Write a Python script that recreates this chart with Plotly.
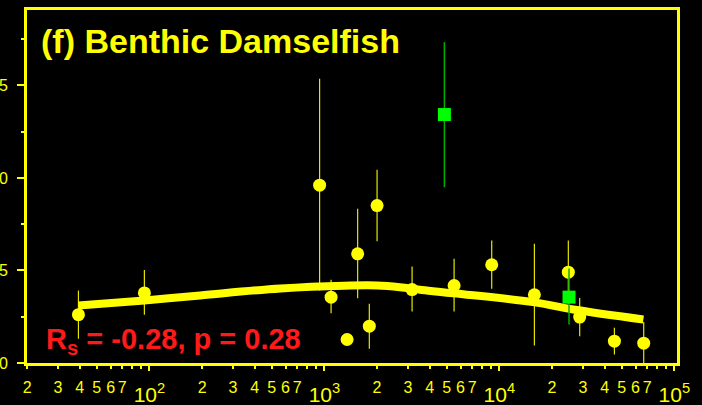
import plotly.graph_objects as go

# ---- data ----
yellow_x = [39.3, 93.6, 939, 1092, 1348, 1549, 1806, 2000, 3170, 5510, 9040, 15850, 24770, 28770, 45420, 66800]
yellow_y = [0.261, 0.379, 0.961, 0.356, 0.127, 0.590, 0.199, 0.851, 0.397, 0.419, 0.531, 0.369, 0.491, 0.248, 0.118, 0.107]
yellow_hi = [0.392, 0.503, 1.536, 0.450, 0.127, 0.834, 0.320, 1.044, 0.522, 0.563, 0.662, 0.644, 0.662, 0.352, 0.190, 0.221]
yellow_lo = [0.131, 0.261, 0.392, 0.269, 0.127, 0.350, 0.077, 0.658, 0.278, 0.278, 0.401, 0.095, 0.320, 0.145, 0.046, 0.000]

green_x = [4850, 25000]
green_y = [1.343, 0.356]
green_hi = [1.734, 0.511]
green_lo = [0.950, 0.208]

smooth_x = [39.3, 93.6, 195, 561, 1300, 2000, 2700, 3600, 5460, 15630, 26480, 66500]
smooth_y = [0.311, 0.338, 0.365, 0.403, 0.418, 0.419, 0.410, 0.395, 0.377, 0.329, 0.289, 0.235]

minor_vals = [m * 10 ** d for d in range(1, 5) for m in range(2, 10) if m * 10 ** d >= 20]
minor_text = [str(int(str(int(v))[0])) if int(str(int(v))[0]) <= 7 else "" for v in minor_vals]
major_vals = [100, 1000, 10000, 100000]
major_text = ["10<sup>2</sup>", "10<sup>3</sup>", "10<sup>4</sup>", "10<sup>5</sup>"]
y_ticks = [0, 0.5, 1.0, 1.5]
y_text = ["0", "0.5", "1.0", "1.5"]

YEL = "#ffff00"
FONT = "Arial"

fig = go.Figure()
fig.add_trace(go.Scatter(
    x=yellow_x, y=yellow_y, mode="markers",
    marker=dict(symbol="circle", size=13, color=YEL, line=dict(width=0)),
    error_y=dict(type="data", symmetric=False,
                 array=[h - y for h, y in zip(yellow_hi, yellow_y)],
                 arrayminus=[y - l for y, l in zip(yellow_y, yellow_lo)],
                 color="#e6e600", thickness=1.2, width=0),
    showlegend=False))
fig.add_trace(go.Scatter(
    x=smooth_x, y=smooth_y, mode="lines",
    line=dict(color=YEL, width=8, shape="spline", smoothing=1.0),
    showlegend=False))
fig.add_trace(go.Scatter(
    x=green_x, y=green_y, mode="markers", xaxis="x2",
    marker=dict(symbol="square", size=13, color="#00ff00", line=dict(width=0)),
    error_y=dict(type="data", symmetric=False,
                 array=[h - y for h, y in zip(green_hi, green_y)],
                 arrayminus=[y - l for y, l in zip(green_y, green_lo)],
                 color="#00b000", thickness=1.5, width=0),
    showlegend=False))

xr = [1.3005, 5.015]
L, R, T, B = 27, 25, 10, 42
PW, PH = 702 - L - R, 405 - T - B
fig.update_layout(
    width=702, height=405,
    margin=dict(l=L, r=R, t=T, b=B, pad=0),
    paper_bgcolor="black", plot_bgcolor="black",
    template="none",
    xaxis=dict(type="log", range=xr, tickmode="array", tickvals=minor_vals, ticktext=minor_text,
               ticks="outside", ticklen=3, tickwidth=1.5, tickcolor=YEL,
               tickfont=dict(family=FONT, size=16, color=YEL),
               showline=True, linewidth=3, linecolor=YEL, mirror=True,
               showgrid=False, zeroline=False, automargin=False, ticklabelstandoff=5),
    xaxis2=dict(type="log", range=xr, overlaying="x", anchor="y", side="bottom",
                tickmode="array", tickvals=major_vals, ticktext=major_text,
                ticks="outside", ticklen=7, tickwidth=1.5, tickcolor=YEL,
                tickfont=dict(family=FONT, size=21, color=YEL),
                showline=False, showgrid=False, zeroline=False, automargin=False,
                ticklabelstandoff=6),
    yaxis=dict(range=[0, 1.908], tickmode="array", tickvals=y_ticks, ticktext=y_text,
               ticks="outside", ticklen=7, tickwidth=1.5, tickcolor=YEL,
               tickfont=dict(family=FONT, size=16, color=YEL),
               minor=dict(tickvals=[0.25, 0.75, 1.25, 1.75], ticks="outside", ticklen=3,
                          tickwidth=1.5, tickcolor=YEL, showgrid=False),
               showline=True, linewidth=3, linecolor=YEL, mirror=True,
               showgrid=False, zeroline=False, automargin=False, ticklabelstandoff=6),
    annotations=[
        dict(text="<b>(f) Benthic Damselfish</b>", xref="paper", yref="paper",
             x=(39 - L) / PW, y=1 - (41 - T) / PH, xanchor="left", yanchor="middle",
             showarrow=False, font=dict(family=FONT, size=34, color=YEL)),
        dict(text="<b>R<sub>s</sub> = -0.28, p = 0.28</b>", xref="paper", yref="paper",
             x=(44 - L) / PW, y=1 - (341 - T) / PH, xanchor="left", yanchor="middle",
             showarrow=False, font=dict(family=FONT, size=29, color="#ff1a1a")),
    ],
)

fig.write_html("out.html", config={"displayModeBar": False},
               post_script="document.body.style.margin='0';document.body.style.overflow='hidden';")
